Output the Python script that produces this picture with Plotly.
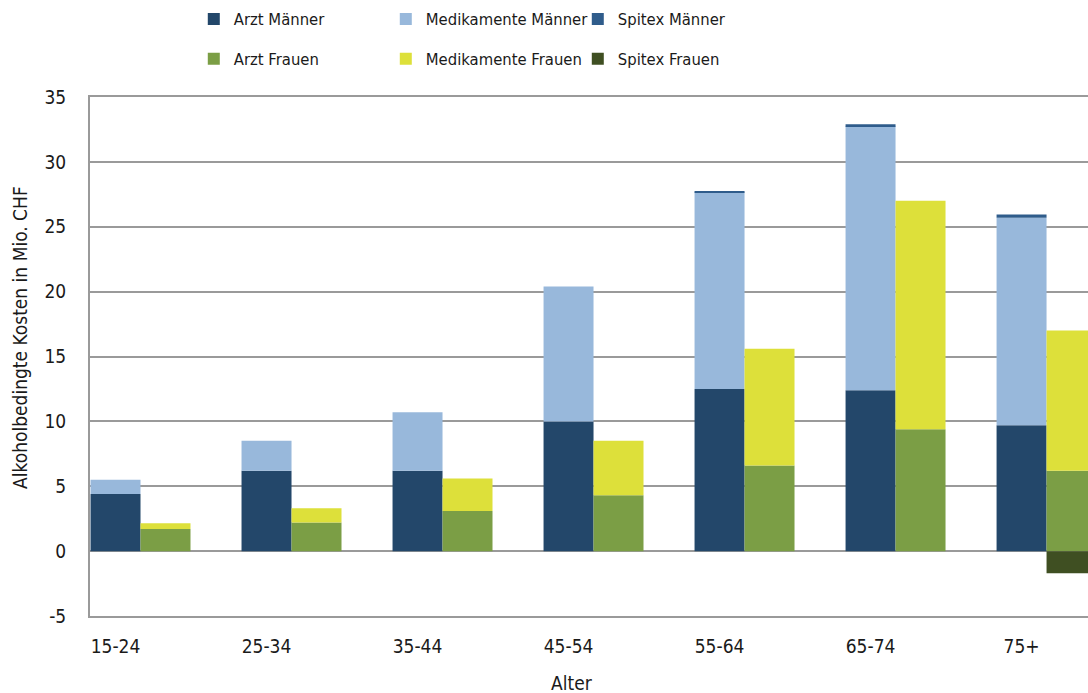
import plotly.graph_objects as go

# Age groups on the x axis
categories = ["15-24", "25-34", "35-44", "45-54", "55-64", "65-74", "75+"]

# Alcohol-related costs in Mio. CHF, per component
arzt_maenner = [4.4, 6.2, 6.2, 10.0, 12.5, 12.4, 9.7]
medikamente_maenner = [1.1, 2.3, 4.5, 10.4, 15.15, 20.35, 16.0]
spitex_maenner = [0.0, 0.0, 0.0, 0.0, 0.05, 0.15, 0.25]
arzt_frauen = [1.7, 2.2, 3.1, 4.3, 6.6, 9.4, 6.2]
medikamente_frauen = [0.45, 1.1, 2.5, 4.2, 9.0, 17.6, 10.8]
spitex_frauen = [0.0, 0.0, 0.0, 0.0, 0.0, 0.0, -1.7]

# y tick labels (plain hyphen for the negative value)
y_tick_values = [-5, 0, 5, 10, 15, 20, 25, 30, 35]
y_tick_labels = ["-5", "0", "5", "10", "15", "20", "25", "30", "35"]

FONT = "DejaVu Sans Condensed, Roboto Condensed, Liberation Sans Narrow, Liberation Sans, sans-serif"
TEXT = "#1a1a1a"
GRID = "#9a9a9a"
BAR_W = 0.331


def relative_bases(stack):
    """Bases for a relative stack: positives pile up from 0, negatives down."""
    pos = [0.0] * len(categories)
    neg = [0.0] * len(categories)
    bases = []
    for vals in stack:
        b = []
        for i, v in enumerate(vals):
            if v >= 0:
                b.append(pos[i])
                pos[i] += v
            else:
                b.append(neg[i])
                neg[i] += v
        bases.append(b)
    return bases


maenner = [
    ("Arzt Männer", arzt_maenner, "#23476a"),
    ("Medikamente Männer", medikamente_maenner, "#98b8db"),
    ("Spitex Männer", spitex_maenner, "#2f5c8b"),
]
frauen = [
    ("Arzt Frauen", arzt_frauen, "#7b9e45"),
    ("Medikamente Frauen", medikamente_frauen, "#dde03a"),
    ("Spitex Frauen", spitex_frauen, "#3f4f22"),
]

fig = go.Figure()

for group, offset, legend in ((maenner, -BAR_W / 2, "legend"), (frauen, BAR_W / 2, "legend2")):
    bases = relative_bases([vals for _, vals, _ in group])
    for (name, vals, color), base in zip(group, bases):
        fig.add_trace(go.Bar(
            x=categories,
            y=vals,
            base=base,
            name=name,
            width=BAR_W,
            offset=offset,
            marker=dict(color=color, line=dict(width=0)),
            legend=legend,
        ))

legend_common = dict(
    orientation="h",
    xanchor="left",
    yanchor="middle",
    x=0.104,
    font=dict(family=FONT, size=16.5, color=TEXT),
    entrywidth=147,
    entrywidthmode="pixels",
    bgcolor="rgba(0,0,0,0)",
    traceorder="normal",
)

fig.update_layout(
    width=1088,
    height=693,
    margin=dict(l=90, r=0, t=97, b=77),
    barmode="overlay",
    plot_bgcolor="white",
    paper_bgcolor="white",
    font=dict(family=FONT, size=19, color=TEXT),
    showlegend=True,
    legend=dict(y=1.150, **legend_common),
    legend2=dict(y=1.073, **legend_common),
    xaxis=dict(
        type="category",
        range=[-0.169, 6.44],
        showgrid=False,
        showline=True,
        mirror=True,
        linecolor=GRID,
        linewidth=2,
        ticks="outside",
        ticklen=12,
        tickcolor="rgba(0,0,0,0)",
        tickfont=dict(family=FONT, size=19, color=TEXT),
    ),
    yaxis=dict(
        range=[-5, 35],
        tickmode="array",
        tickvals=y_tick_values,
        ticktext=y_tick_labels,
        showgrid=True,
        gridcolor=GRID,
        gridwidth=2,
        zeroline=True,
        zerolinecolor=GRID,
        zerolinewidth=2,
        showline=True,
        linecolor=GRID,
        linewidth=2,
        ticks="outside",
        ticklen=18,
        tickcolor="rgba(0,0,0,0)",
        tickfont=dict(family=FONT, size=19, color=TEXT),
    ),
    annotations=[
        dict(
            text="Alkoholbedingte Kosten in Mio. CHF",
            xref="paper", yref="paper",
            x=-0.070, y=0.536,
            xanchor="center", yanchor="middle",
            textangle=-90,
            showarrow=False,
            font=dict(family=FONT, size=19, color=TEXT),
        ),
        dict(
            text="Alter",
            xref="paper", yref="paper",
            x=(572 - 90) / 998, y=(616 - 683) / 519,
            xanchor="center", yanchor="middle",
            showarrow=False,
            font=dict(family=FONT, size=19, color=TEXT),
        ),
    ],
)

fig.write_html("out.html")
